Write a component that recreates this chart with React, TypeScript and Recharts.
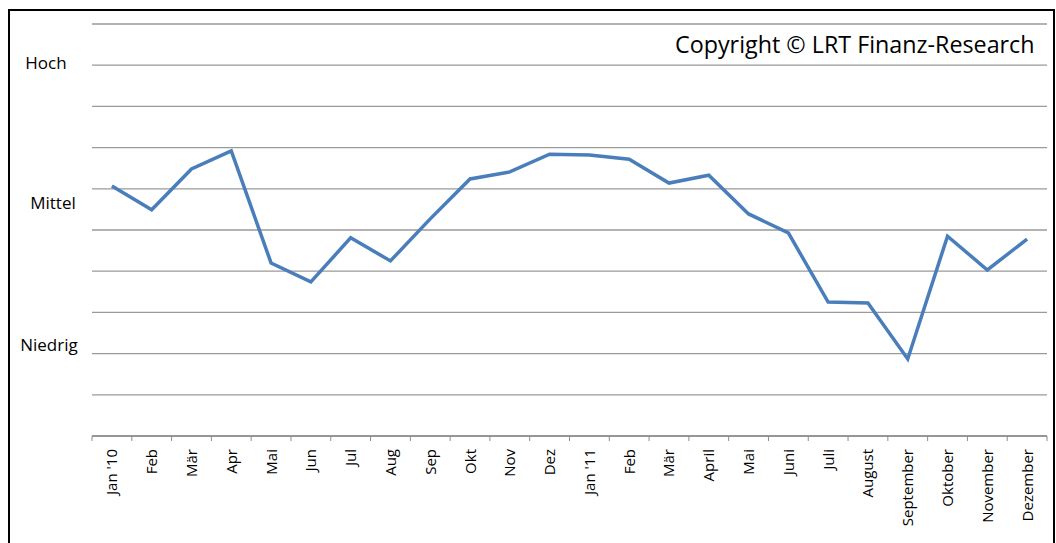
import React from "react";
import { LineChart, Line, XAxis, YAxis, CartesianGrid } from "recharts";

const months = [
  "Jan '10", "Feb", "Mär", "Apr", "Mai", "Jun", "Jul", "Aug", "Sep", "Okt", "Nov", "Dez",
  "Jan '11", "Feb", "Mär", "April", "Mai", "Juni", "Juli", "August", "September", "Oktober", "November", "Dezember",
];

const sentiment = [
  6.07, 5.49, 6.48, 6.92, 4.2, 3.74, 4.81, 4.25, 5.27, 6.24, 6.41, 6.84,
  6.82, 6.72, 6.14, 6.33, 5.39, 4.93, 3.25, 3.23, 1.87, 4.85, 4.03, 4.78,
];

const gridValues = [0, 1, 2, 3, 4, 5, 6, 7, 8, 9, 10];
const levelTicks = [9.05, 5.65, 2.2];
const levelLabels = ["Hoch", "Mittel", "Niedrig"];

const data = months.map((m, i) => ({ key: i, month: m, value: sentiment[i] }));

const FONT = "'Open Sans', 'Liberation Sans', sans-serif";
const PLOT_W = 955;
const BAND = PLOT_W / months.length;

const XTick = (props: any) => {
  const { x, y, payload, index } = props;
  const label = months[payload.value];
  return (
    <g>
      <line x1={x - BAND / 2} x2={x - BAND / 2} y1={y - 8} y2={y - 3} stroke="#8c8c8c" />
      {index === months.length - 1 && (
        <line x1={x + BAND / 2} x2={x + BAND / 2} y1={y - 8} y2={y - 3} stroke="#8c8c8c" />
      )}
      <text
        x={0}
        y={0}
        transform={`translate(${x + 5.5},${y + 5}) rotate(-90)`}
        textAnchor="end"
        fontSize={15}
        fontFamily={FONT}
        fill="#000"
      >
        {label}
      </text>
    </g>
  );
};

const labelX = [46, 53, 49];

const YTick = (props: any) => {
  const { y, index } = props;
  return (
    <text x={labelX[index]} y={y} dy={6} textAnchor="middle" fontSize={17} fontFamily={FONT} fill="#000">
      {levelLabels[index]}
    </text>
  );
};

export default function App() {
  return (
    <div style={{ position: "absolute", left: 0, top: 0, width: 1056, height: 543, overflow: "hidden", background: "#fff" }}>
      <div
        style={{
          position: "absolute",
          left: 8,
          top: 9,
          width: 1043,
          height: 560,
          border: "2px solid #000",
        }}
      />
      <div style={{ position: "absolute", left: 0, top: 0 }}>
        <LineChart width={1056} height={543} data={data} margin={{ top: 24, right: 9, left: 0, bottom: 0 }}>
          <CartesianGrid vertical={false} stroke="#9a9a9a" strokeWidth={1.3} horizontalValues={gridValues} />
          <XAxis
            dataKey="key"
            type="category"
            scale="band"
            interval={0}
            tickLine={false}
            axisLine={{ stroke: "#8c8c8c", strokeWidth: 1.3 }}
            tick={<XTick />}
            height={107}
          />
          <YAxis
            width={92}
            domain={[0, 10]}
            ticks={levelTicks}
            interval={0}
            axisLine={false}
            tickLine={false}
            tick={<YTick />}
          />
          <Line
            type="linear"
            dataKey="value"
            stroke="#4a7ebb"
            strokeWidth={3.5}
            dot={false}
            isAnimationActive={false}
          />
        </LineChart>
      </div>
      <div
        style={{
          position: "absolute",
          left: 675,
          top: 28,
          fontFamily: FONT,
          fontSize: 23.3,
          color: "#000",
          whiteSpace: "nowrap",
          lineHeight: "32px",
        }}
      >
        Copyright © LRT Finanz-Research
      </div>
    </div>
  );
}
